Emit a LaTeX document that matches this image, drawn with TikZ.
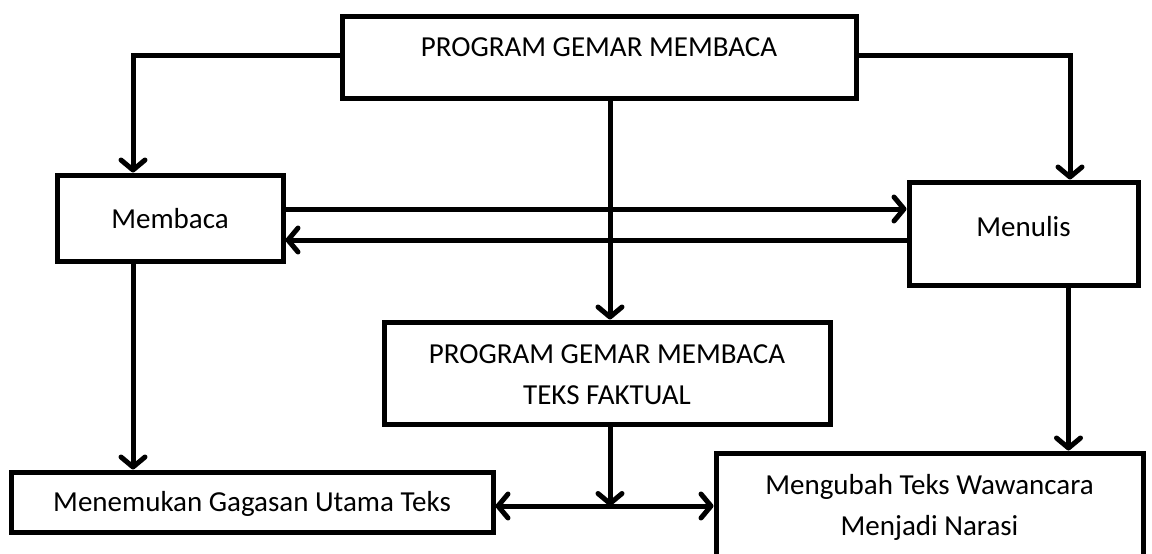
\documentclass[tikz,border=0pt]{standalone}
\usepackage{fontspec}
\setmainfont{Carlito}
\usetikzlibrary{arrows.meta}
\tikzset{
  x=1pt, y=-1pt,
  box/.style={draw=black, line width=5pt, line join=miter, minimum width=#1, inner sep=0pt},
  lbl/.style={font=\fontsize{29}{41}\selectfont, inner sep=0pt, anchor=base, align=center},
  barb/.tip={Straight Barb[length=10pt,width=24pt,line width=5pt,round]},
  arr/.style={line width=5pt, -{barb}},
  darr/.style={line width=5pt, {barb}-{barb}}
}
\begin{document}
\begin{tikzpicture}
\useasboundingbox[fill=white] (0,0) rectangle (1152,554);
% boxes
\node[box=514pt, minimum height=82pt] (top) at (599,57) {};
\node[box=226pt, minimum height=86pt] (membaca) at (170,218) {};
\node[box=229pt, minimum height=103pt] (menulis) at (1023.5,233.5) {};
\node[box=446pt, minimum height=102pt] (mid) at (607,373) {};
\node[box=482pt, minimum height=60pt] (menemukan) at (252,502) {};
\begin{scope}
\clip (0,0) rectangle (1152,554);
\node[box=427pt, minimum height=120pt] (mengubah) at (929.5,513) {};
\end{scope}
% labels
\node[lbl] (ttop) at (599,56) {PROGRAM GEMAR MEMBACA};
\node[lbl] (tmembaca) at (170,228) {Membaca};
\node[lbl] (tmenulis) at (1023.5,236) {Menulis};
\node[lbl] (tmid) at (607,404) {PROGRAM GEMAR MEMBACA\\TEKS FAKTUAL};
\node[lbl] (tmengubah) at (929.5,535) {Mengubah Teks Wawancara\\Menjadi Narasi};
\node[lbl] (tmenemukan) at (252,511) {Menemukan Gagasan Utama Teks};
% connectors
\draw[arr] ([yshift=2pt]top.west) -| ([xshift=-37pt]membaca.north);
\draw[arr] ([yshift=2pt]top.east) -| ([xshift=46.5pt]menulis.north);
\draw[arr] ([xshift=3pt]mid.north |- top.south) -- ([xshift=3pt]mid.north);
\draw[arr] ([yshift=9pt]membaca.east) -- ([yshift=9pt]membaca.east -| menulis.west);
\draw[arr] ([yshift=-22pt]membaca.east -| menulis.west) -- ([yshift=-22pt]membaca.east);
\draw[arr] ([xshift=-37pt]membaca.south) -- ([xshift=-37pt]menemukan.north -| membaca.south);
\draw[arr] ([xshift=45pt]menulis.south) -- ([xshift=45pt]menulis.south |- mengubah.north);
\draw[darr] (menemukan.east |- 0,506) coordinate (dl) -- (mengubah.west |- 0,506) coordinate (dr);
\coordinate (dm) at ([xshift=3pt]mid.south |- dl);
\draw[arr] ([xshift=3pt]mid.south) -- (dm);
\end{tikzpicture}
\end{document}
